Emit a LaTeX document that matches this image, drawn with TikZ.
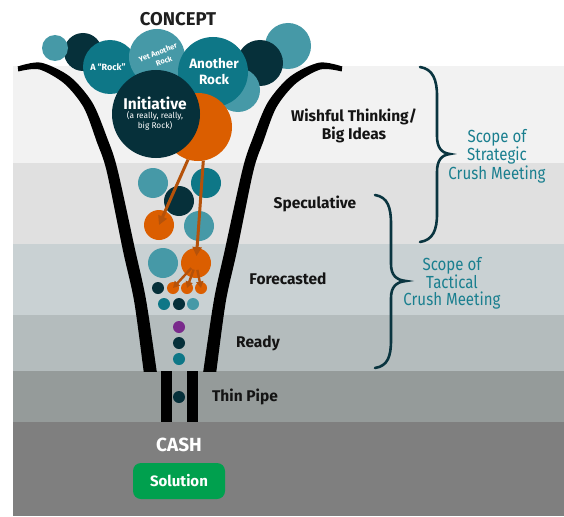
\documentclass[tikz,border=0pt]{standalone}
\usepackage{fontspec}
\setmainfont{Fira Sans}
\newfontfamily\scopefont[FakeStretch=0.86]{Fira Sans}
\usetikzlibrary{arrows.meta}

\definecolor{bandA}{HTML}{F2F2F2}
\definecolor{bandB}{HTML}{E0E0E0}
\definecolor{bandC}{HTML}{C9D1D3}
\definecolor{bandD}{HTML}{B4BCBD}
\definecolor{bandE}{HTML}{959B9A}
\definecolor{bandF}{HTML}{7F7F7F}
\definecolor{rockdark}{HTML}{06303A}
\definecolor{rockteal}{HTML}{0E7787}
\definecolor{rocklight}{HTML}{4699A7}
\definecolor{rockorange}{HTML}{DB5E00}
\definecolor{rockpurple}{HTML}{7A2A8C}
\definecolor{arrowbrown}{HTML}{B5520A}
\definecolor{bracecol}{HTML}{0A3540}
\definecolor{scopeteal}{HTML}{1A7F8F}
\definecolor{solgreen}{HTML}{00A04E}

\tikzset{
  ball/.style 2 args={circle, fill=#1, minimum size=#2, inner sep=0pt, outer sep=0pt},
  stage/.style={font=\bfseries\fontsize{15.5}{18}\selectfont, text=black!92, align=center, inner sep=0pt},
  rocktext/.style={text=white, align=center, inner sep=0pt, font=\bfseries},
  scopetext/.style={text=scopeteal, align=center, inner sep=0pt, font=\scopefont\fontsize{17.5}{16.5}\selectfont},
  flow/.style={draw=arrowbrown, line width=3pt, -{Triangle[length=9pt,width=9pt]}},
  flowsmall/.style={draw=arrowbrown, line width=2.4pt, -{Triangle[length=6.5pt,width=7pt]}},
  wall/.style={fill=black},
  bracket/.style={draw=bracecol, line width=2.6pt, line cap=round},
}

% one wall of the funnel, as a tapered band
\newcommand{\funnelwall}{%
  \fill[wall] plot[smooth] coordinates {(17.7,66.5) (40.8,62.6) (69.8,76.5) (92.3,102.5) (107.2,138.1) (117.3,168.7) (134.9,248.7) (145.9,299) (156.4,369.1) (158.4,384)}
    -- plot[smooth] coordinates {(145.6,386) (143.6,370.9) (134.1,301) (123.1,251.3) (106.7,171.3) (96.8,141.9) (83.7,107.5) (64.2,83.5) (39.2,69.4) (18.3,71.5)}
    -- cycle;}

\begin{document}
\begin{tikzpicture}[x=1pt,y=-1pt]
\useasboundingbox (0,0) rectangle (564,516);
\fill[white] (0,0) rectangle (564,516);

% stage bands
\fill[bandA] (13,66) rectangle (564,163);
\fill[bandB] (13,163) rectangle (564,244);
\fill[bandC] (13,244) rectangle (564,315);
\fill[bandD] (13,315) rectangle (564,371);
\fill[bandE] (13,371) rectangle (564,422);
\fill[bandF] (13,422) rectangle (564,516);

% funnel walls
\begin{scope}
  \clip (0,0) rectangle (564,371);
  \funnelwall
  \begin{scope}[xshift=360pt, xscale=-1]
    \funnelwall
  \end{scope}
\end{scope}

% thin pipe
\fill[black] (161,371) rectangle (172,422);
\fill[black] (187,371) rectangle (198,422);

% rocks at the top of the funnel
\node[ball={rockdark}{38pt}] (r2) at (83,52) {};
\node[ball={rocklight}{26pt}] (r1) at (55,48) {};
\node[ball={rockteal}{54pt}] (arock) at (110,67) {};
\node[ball={rocklight}{46pt}] (r8) at (288,46) {};
\node[ball={rockdark}{46pt}] (r7) at (260,63) {};
\node[ball={rocklight}{44pt}] (r6) at (238,90) {};
\node[ball={rocklight}{56pt}] (yarock) at (157,57) {};
\node[ball={rockteal}{70pt}] (anrock) at (213,72) {};
\node[ball={rockorange}{68pt}] (bo) at (198,127) {};
\node[ball={rockdark}{88pt}] (init) at (156,114) {};

\node[rocktext, font=\bfseries\fontsize{9}{10}\selectfont] (arocktxt) at (108,67) {A “Rock”};
\node[rocktext, rotate=21, font=\bfseries\fontsize{7.5}{8}\selectfont] (yaroctxt) at (158,52.5) {Yet Another};
\node[rocktext, rotate=21, font=\bfseries\fontsize{7.5}{8}\selectfont] (yaroctxtb) at (164,61) {Rock};
\node[rocktext, font=\bfseries\fontsize{13.5}{16}\selectfont] (anroctxt) at (214,71) {Another\\Rock};
\node[rocktext, font=\bfseries\fontsize{15.5}{16}\selectfont] (inittxt) at (155,103) {Initiative};
\node[rocktext, font=\fontsize{8.3}{10}\selectfont] (initsub) at (155,121) {(a really, really,\\big Rock)};

\node[font=\bfseries\fontsize{18.5}{20}\selectfont, text=black!88, inner sep=0pt] (concept) at (178,19) {CONCEPT};

% speculative band
\node[ball={rocklight}{30pt}] (s1) at (153,183) {};
\node[ball={rockteal}{30pt}] (s2) at (206,183) {};
\node[ball={rockdark}{30pt}] (s3) at (179,201) {};
\node[ball={rockorange}{30pt}] (o1) at (159,225) {};
\node[ball={rocklight}{30pt}] (s5) at (199,226) {};

% forecasted band
\node[ball={rocklight}{30pt}] (f1) at (163,263) {};
\node[ball={rockorange}{30pt}] (o2) at (196,263) {};
\node[ball={rockdark}{12pt}] (f3) at (158,288) {};
\node[ball={rockorange}{12pt}] (so1) at (173,288) {};
\node[ball={rockorange}{12pt}] (so2) at (187,288) {};
\node[ball={rockorange}{12pt}] (so3) at (201,288) {};
\node[ball={rockteal}{12pt}] (f7) at (164,304) {};
\node[ball={rockdark}{12pt}] (f8) at (179,304) {};
\node[ball={rocklight}{12pt}] (f9) at (193,304) {};

% ready band
\node[ball={rockpurple}{12pt}] (d1) at (179,327) {};
\node[ball={rockdark}{12pt}] (d2) at (179,343) {};
\node[ball={rockteal}{12pt}] (d3) at (179,359) {};

% in the pipe
\node[ball={rockdark}{12pt}] (p1) at (179,397) {};

% flow of the rocks
\draw[flow] (bo.253) -- (o1.center);
\draw[flow, shorten >=7pt] (bo.279) -- (o2.center);
\draw[flowsmall, shorten <=7pt] (o2.center) -- (so1.center);
\draw[flowsmall, shorten <=7pt] (o2.center) -- (so2.center);
\draw[flowsmall, shorten <=7pt] (o2.center) -- (so3.center);

% stage labels
\node[stage] (wish) at (354,126) {Wishful Thinking/\\Big Ideas};
\node[stage] (spec) at (315,204) {Speculative};
\node[stage] (fore) at (288,279) {Forecasted};
\node[stage] (ready) at (258,343) {Ready};
\node[stage] (pipe) at (245,397) {Thin Pipe};

% cash and solution
\node[font=\bfseries\fontsize{19}{20}\selectfont, text=white, inner sep=0pt] (cash) at (179,445) {CASH};
\node[fill=solgreen, rounded corners=8pt, minimum width=92pt, minimum height=36pt, inner sep=0pt,
      text=white, font=\bfseries\fontsize{15}{16}\selectfont] (solution) at (179,481) {Solution};

% scope braces
\draw[bracket] (420,67) .. controls (433,69) and (437,80) .. (437,96) -- (437,136)
  .. controls (437,147) and (441,153) .. (450,154)
  .. controls (441,155) and (437,161) .. (437,172) -- (437,214)
  .. controls (437,230) and (433,240) .. (420,242);
\draw[bracket] (375,195) .. controls (388,197) and (391,208) .. (391,224) -- (391,264)
  .. controls (391,275) and (396,280) .. (406,281)
  .. controls (396,282) and (391,287) .. (391,298) -- (391,340)
  .. controls (391,356) and (388,366) .. (375,368);

\node[scopetext] (strat) at (497,156) {Scope of\\Strategic\\Crush Meeting};
\node[scopetext] (tact) at (452,283) {Scope of\\Tactical\\Crush Meeting};
\end{tikzpicture}
\end{document}
